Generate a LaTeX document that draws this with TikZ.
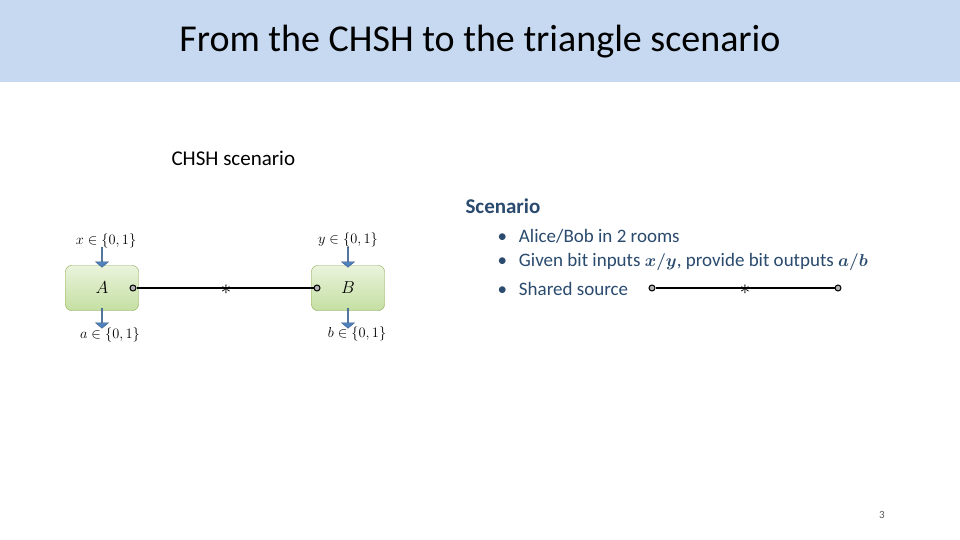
\documentclass[tikz,border=0pt]{standalone}
\usepackage{fontspec}
\setmainfont{Carlito}
\usepackage{amsmath,amssymb}
\usetikzlibrary{shapes.arrows}
\definecolor{band}{HTML}{C6D9F1}
\definecolor{tx}{HTML}{2A4A6E}
\definecolor{gA}{HTML}{EAF3DC}
\definecolor{gB}{HTML}{C4DFA2}
\definecolor{gE}{HTML}{9BBB59}
\definecolor{arr}{HTML}{4F81BD}
\tikzset{
  party/.style={draw=gE!90!black, rounded corners=6pt, top color=gA, bottom color=gB, minimum width=73pt, minimum height=45pt, font=\fontsize{18}{18}\selectfont},
  port/.style={circle, draw=black, fill=gray!60, line width=1pt, inner sep=0pt, minimum size=6pt},
  blk/.style={single arrow, draw=arr!70!black, fill=arr, shape border rotate=270, minimum width=13pt, single arrow head extend=2pt, single arrow tip angle=100, minimum height=20pt, inner sep=0pt},
  lab/.style={font=\fontsize{14}{14}\selectfont},
  bul/.style={anchor=west, text=tx, font=\fontsize{19}{19}\selectfont},
  wire/.style={line width=1.6pt},
  starn/.style={inner sep=0pt, font=\fontsize{20}{20}\selectfont, yshift=-2pt}
}
\begin{document}
\begin{tikzpicture}[x=1pt,y=-1pt]
\useasboundingbox (0,0) rectangle (960,540);
\fill[white] (0,0) rectangle (960,540);
\fill[band] (0,0) rectangle (960,82);
\node (title) at (480,42) {\fontsize{38}{38}\selectfont From the CHSH to the triangle scenario};
\node[anchor=west] (chsh) at (168,158) {\fontsize{21}{21}\selectfont CHSH scenario};
\node[party] (A) at (102,288) {$A$};
\node[party] (B) at (348,288) {$B$};
\node[blk] (ainA) at (102,257) {};
\node[blk] (aout) at (102,318) {};
\node[blk] (binB) at (348,257) {};
\node[blk] (bout) at (348,318) {};
\node[lab] (xl) at (106,241) {$x\in\{0,1\}$};
\node[lab] (yl) at (348,240) {$y\in\{0,1\}$};
\node[lab] (al) at (110,335) {$a\in\{0,1\}$};
\node[lab] (bl) at (357,334) {$b\in\{0,1\}$};
\node[port] (pa) at (133,288) {};
\node[port] (pb) at (317,288) {};
\draw[wire] (pa) -- (pb);
\node[starn] (st) at (226,288) {$*$};
\node[anchor=west, text=tx, font=\fontsize{21}{21}\selectfont\bfseries] (sc) at (462,206) {Scenario};
\node[bul] (b1) at (494,236) {•\hspace{12pt}Alice/Bob in 2 rooms};
\node[bul] (b2) at (494,262) {•\hspace{12pt}Given bit inputs $\boldsymbol{x/y}$, provide bit outputs $\boldsymbol{a/b}$};
\node[bul] (b3) at (494,289) {•\hspace{12pt}Shared source};
\node[port] (s1) at (652,288) {};
\node[port] (s2) at (838,288) {};
\draw[wire] (s1) -- (s2);
\node[starn] (s0) at (745,288) {$*$};
\node[text=gray!70!black, font=\fontsize{11}{11}\selectfont] (pg) at (882,515) {3};
\end{tikzpicture}
\end{document}
